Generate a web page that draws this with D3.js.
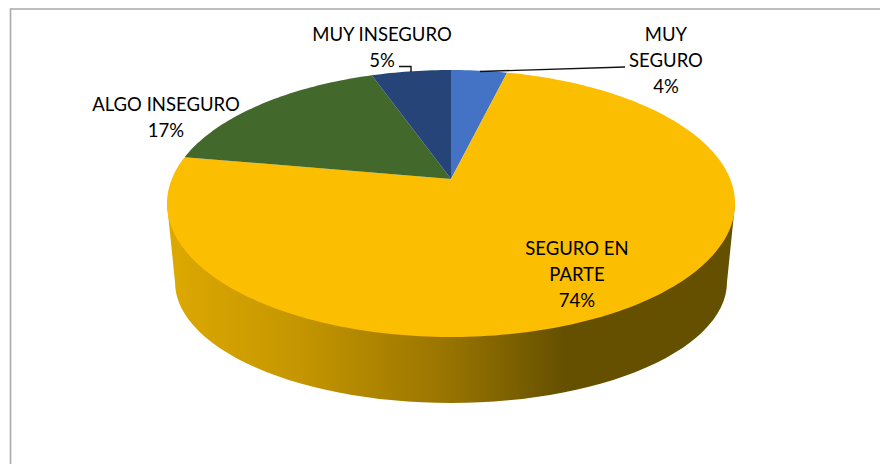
<!DOCTYPE html>
<html><head><meta charset="utf-8">
<style>html,body{margin:0;padding:0;background:#fff}svg{display:block}text{font-family:Lato,"Open Sans",sans-serif;font-size:18.5px;fill:#000;text-anchor:middle}</style>
<script src="https://cdn.jsdelivr.net/npm/d3@7"></script>
</head><body><svg id="c" width="880" height="464"></svg>
<script>
const categories = ["MUY SEGURO", "SEGURO EN PARTE", "ALGO INSEGURO", "MUY INSEGURO"];
const shares = [3.8, 74, 16.8, 5.4];
const colors = ["#4472C4", "#FBBE00", "#43682B", "#264478"];

const svg = d3.select("#c");
const defs = svg.append("defs");
const grad = defs.append("linearGradient").attr("id","wall").attr("gradientUnits","userSpaceOnUse")
  .attr("x1",167).attr("x2",735).attr("y1",0).attr("y2",0);
[[0,"#DDA900"],[0.24,"#C49500"],[0.5,"#977300"],[0.7,"#655000"],[1,"#655000"]].forEach(s=>
  grad.append("stop").attr("offset",s[0]).attr("stop-color",s[1]));

// frame
svg.append("path").attr("d","M10.5 464V9H880").attr("fill","none").attr("stroke","#a9a9a9").attr("stroke-width",1.6);

// perspective projection of the unit disc
const apex = {x:451,y:179}, k = -0.1835, A = 279.2, B = 129;
const project = (a,r=1)=>{
  const u = r*Math.sin(a), v = -r*Math.cos(a), d = 1+k*v;
  return [apex.x + A*u/d, apex.y + B*v/d];
};

// side wall
const lower = d3.range(0,181,3).map(t=>{
  const a=Math.PI*t/180;
  return [451-276*Math.cos(a), 282+121*Math.sin(a)];
});
svg.append("path")
  .attr("d","M167,204L"+lower.map(p=>p.join(",")).join("L")+"L735,204Z")
  .attr("fill","url(#wall)");

// top face
const pie = d3.pie().sort(null).value(d=>d)(shares);
const line = d3.line();
svg.append("g").selectAll("path").data(pie).join("path")
  .attr("d",d=>{
    const n = Math.max(4,Math.ceil((d.endAngle-d.startAngle)/0.02));
    const pts = d3.range(n+1).map(i=>project(d.startAngle+(d.endAngle-d.startAngle)*i/n));
    return line([[apex.x,apex.y],...pts])+"Z";
  })
  .attr("fill",(d,i)=>colors[i]);

// leaders
svg.append("path").attr("d","M480 71.5L625 67").attr("fill","none").attr("stroke","#111").attr("stroke-width",1.4);
svg.append("path").attr("d","M399 66.5H411V72").attr("fill","none").attr("stroke","#111").attr("stroke-width",1.4);

// labels
const fmt = v=>Math.round(v)+"%";
const labelLines = [["MUY","SEGURO",fmt(shares[0])],["SEGURO EN","PARTE",fmt(shares[1])],[categories[2],fmt(shares[2])],[categories[3],fmt(shares[3])]];
const labelAt = [[666,41],[577,255],[166,111],[382,41]];
labelLines.forEach((ls,i)=>{
  const t = svg.append("text");
  ls.forEach((s,j)=>t.append("tspan").attr("x",labelAt[i][0]).attr("y",labelAt[i][1]+j*26).text(s));
});
</script></body></html>
